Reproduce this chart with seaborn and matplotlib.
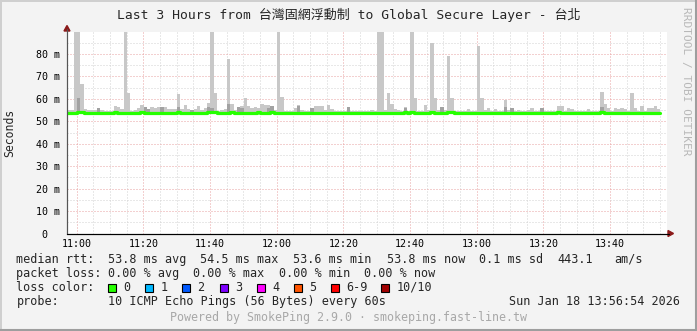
import matplotlib
matplotlib.use("Agg")
import numpy as np
import pandas as pd
import matplotlib.pyplot as plt
import seaborn as sns
from matplotlib.patches import Rectangle
from matplotlib.lines import Line2D

# ---------------- data ----------------
title = "Last 3 Hours from 台灣固網浮動制 to Global Secure Layer - 台北"
tick_minutes = [0, 20, 40, 60, 80, 100, 120, 140, 160]
tick_labels = ["11:00", "11:20", "11:40", "12:00", "12:20", "12:40", "13:00", "13:20", "13:40"]
y_ticks = [0, 10, 20, 30, 40, 50, 60, 70, 80]
y_labels = ["0  ", "10 m", "20 m", "30 m", "40 m", "50 m", "60 m", "70 m", "80 m"]

# smoke top (ms) per one-minute step, starting 10:57
smoke_max = [
    54.9, 55.2, 90.0, 90.0, 66.8, 55.6, 55.2, 55.2, 55.2, 56.0,
    55.0, 54.6, 54.6, 54.8, 57.0, 56.5, 55.4, 90.0, 62.8, 54.6,
    55.2, 55.8, 57.4, 56.2, 55.5, 56.5, 56.1, 56.5, 56.5, 56.5,
    55.4, 55.6, 55.5, 62.3, 55.5, 57.4, 55.3, 55.0, 55.5, 56.9,
    55.0, 56.1, 58.3, 90.0, 62.8, 54.8, 55.0, 55.6, 77.6, 57.8,
    55.0, 56.5, 56.8, 60.2, 56.8, 56.1, 56.5, 56.1, 57.8, 57.4,
    57.1, 56.6, 55.0, 90.0, 61.0, 54.8, 54.6, 54.6, 56.1, 57.4,
    55.0, 54.7, 54.6, 56.1, 56.9, 56.6, 56.6, 55.2, 57.4, 55.3,
    54.6, 54.6, 54.8, 54.7, 56.5, 54.8, 54.7, 54.8, 54.6, 54.6,
    54.6, 55.2, 54.6, 90.0, 90.0, 55.0, 62.8, 57.8, 55.6, 55.0,
    54.6, 56.5, 54.6, 90.0, 60.2, 54.6, 54.6, 57.3, 55.2, 84.7,
    60.5, 55.0, 56.1, 55.0, 78.9, 60.2, 54.6, 54.6, 54.6, 54.6,
    55.3, 54.6, 54.6, 83.7, 60.2, 55.2, 56.1, 54.8, 55.6, 54.6,
    54.6, 59.3, 55.2, 56.1, 54.6, 55.2, 54.6, 54.6, 55.2, 56.1,
    54.8, 54.6, 56.1, 54.6, 54.6, 54.6, 54.6, 56.8, 56.8, 54.6,
    56.1, 55.3, 54.6, 54.6, 54.6, 54.6, 55.6, 54.6, 54.6, 54.6,
    63.2, 57.8, 56.1, 54.6, 56.1, 55.6, 56.1, 55.3, 54.6, 62.8,
    56.1, 54.6, 56.9, 54.6, 56.1, 56.1, 56.9, 55.3,
]

# darker smoke layer
dark_steps = [3, 9, 23, 24, 28, 33, 37, 42, 43, 48, 51, 52, 60, 61, 69, 73, 84, 101, 112, 131, 133, 142, 160]
dark_tops = [60.5, 55.9, 56.2, 55.5, 56.2, 56.3, 55.0, 56.3, 56.1, 57.5, 56.5, 56.1, 56.1, 56.6, 56.6, 56.1, 56.5, 56.1, 56.3, 56.5, 56.1, 56.1, 56.5]

# median rtt (ms) per step
median_rtt = [
    53.8, 53.8, 53.8, 54.1, 54.1, 53.8, 53.8, 53.8, 53.8, 53.8,
    53.8, 53.7, 53.7, 53.8, 54.1, 53.8, 53.8, 53.8, 53.8, 53.8,
    53.8, 53.8, 54.0, 53.9, 53.9, 53.8, 53.8, 53.8, 53.9, 53.8,
    53.8, 53.8, 53.8, 54.1, 53.8, 53.8, 53.8, 53.7, 53.8, 53.8,
    53.8, 53.8, 54.0, 54.1, 54.2, 53.8, 53.8, 53.7, 53.8, 54.0,
    53.8, 53.8, 53.8, 53.8, 53.8, 53.8, 53.8, 54.0, 53.8, 53.8,
    53.8, 54.0, 53.8, 53.8, 53.8, 53.7, 53.7, 53.7, 53.8, 53.8,
    53.8, 53.8, 53.7, 53.8, 53.8, 53.8, 53.8, 53.8, 53.8, 53.8,
    53.7, 53.7, 53.8, 53.8, 53.8, 53.8, 53.8, 53.8, 53.7, 53.7,
    53.8, 53.8, 53.8, 53.8, 53.8, 53.8, 53.8, 53.8, 53.8, 53.8,
    53.8, 54.0, 53.8, 54.0, 53.8, 53.8, 53.8, 53.8, 53.8, 54.1,
    53.8, 53.8, 53.9, 53.8, 54.1, 54.0, 53.8, 53.7, 53.7, 53.8,
    53.8, 53.8, 53.8, 53.8, 53.8, 53.8, 53.8, 53.8, 53.8, 53.8,
    53.8, 53.8, 53.8, 53.8, 53.8, 53.8, 53.8, 53.8, 53.8, 53.8,
    53.8, 53.8, 53.8, 53.8, 53.8, 53.8, 53.8, 54.0, 53.8, 53.8,
    53.8, 53.8, 53.8, 53.8, 53.8, 53.8, 53.8, 53.8, 53.8, 53.8,
    54.0, 53.8, 53.8, 53.8, 53.8, 53.8, 53.8, 53.8, 53.8, 53.8,
    53.8, 53.8, 53.8, 53.8, 53.8, 53.8, 53.8, 53.8,
]

loss_labels = ["0", "1", "2", "3", "4", "5", "6-9", "10/10"]
loss_colors = ["#26ff00", "#00b8ff", "#0059ff", "#7e00ff", "#ff00ff", "#ff5500", "#ff0000", "#a10000"]

# ---------------- figure ----------------
W, H = 697, 331
sns.set_style("white")
MONO = ["DejaVu Sans Mono", "Noto Sans CJK TC"]
plt.rcParams["font.family"] = MONO

fig = plt.figure(figsize=(W / 100, H / 100), dpi=100, facecolor="#f3f3f3")

def fx(x):
    return x / W

def fy(y):
    return 1 - y / H

left_px, right_px, top_px, bot_px = 67, 667, 32.0, 233.5
ax = fig.add_axes([fx(left_px), fy(bot_px), (right_px - left_px) / W, (bot_px - top_px) / H])
ax.set_facecolor("white")

start = -2.91  # minutes relative to 11:00 of first step
n = len(smoke_max)
t = np.array([start + i for i in range(n)])
smoke_floor = 53.3

df = pd.DataFrame({"t": t, "hi": smoke_max, "med": median_rtt})

# grid (behind)
for m in range(-0, 180, 5):
    if start < m < start + 180:
        major = (m % 20 == 0)
        ax.axvline(m, color="#e8a2a2" if major else "#d2d2d2", lw=0.72,
                   ls=(0, (1, 2)), zorder=0)
for v in range(5, 90, 5):
    major = (v % 10 == 0)
    ax.axhline(v, color="#e8a2a2" if major else "#d2d2d2", lw=0.72,
               ls=(0, (1, 2)), zorder=0)

# smoke
ax.bar(df["t"], df["hi"] - smoke_floor, bottom=smoke_floor, width=1.0, align="edge",
       color="#c8c8c8", linewidth=0, zorder=2)
dt = np.array([start + i for i in dark_steps])
ax.bar(dt, np.array(dark_tops) - smoke_floor, bottom=smoke_floor, width=1.0, align="edge",
       color="#a2a2a2", linewidth=0, zorder=3)

# median line (steps)
df_line = pd.concat([df, pd.DataFrame({"t": [t[-1] + 1], "hi": [smoke_max[-1]], "med": [median_rtt[-1]]})],
                    ignore_index=True)
sns.lineplot(data=df_line, x="t", y="med", ax=ax, color="#26ff00", lw=2.3,
             drawstyle="steps-post", zorder=4, legend=False)

ax.set_xlim(start, start + 180)
ax.set_ylim(0, 89.8)
ax.set_xlabel("")
ax.set_ylabel("")

ax.set_xticks(tick_minutes)
ax.set_xticklabels(tick_labels)
ax.set_xticks([m for m in range(0, 180, 5) if m not in tick_minutes], minor=True)
ax.set_yticks(y_ticks)
ax.set_yticklabels(y_labels)
ax.set_yticks(list(range(5, 90, 10)), minor=True)
ax.tick_params(axis="both", which="both", direction="out", length=2.2, width=0.7,
               colors="#444444", labelcolor="black", labelsize=7.2)
ax.tick_params(axis="x", which="major", pad=1.8)
ax.tick_params(axis="y", which="major", pad=3.0)
for lab in ax.get_xticklabels() + ax.get_yticklabels():
    lab.set_family(MONO)

for s in ["top", "right"]:
    ax.spines[s].set_visible(False)
ax.spines["left"].set_color("#555555")
ax.spines["left"].set_linewidth(0.8)
ax.spines["bottom"].set_color("#000000")
ax.spines["bottom"].set_linewidth(0.8)

# axis arrows
fig.add_artist(Line2D([fx(left_px), fx(left_px)], [fy(bot_px), fy(29)], color="#555555", lw=0.8))
fig.add_artist(Line2D([fx(left_px), fx(669)], [fy(bot_px), fy(bot_px)], color="#000000", lw=0.8))
fig.patches.append(plt.Polygon([[fx(64), fy(31)], [fx(70), fy(31)], [fx(67), fy(25.5)]],
                               closed=True, color="#8b1a1a", transform=fig.transFigure, figure=fig))
fig.patches.append(plt.Polygon([[fx(668), fy(230.5)], [fx(668), fy(236.5)], [fx(673.5), fy(233.5)]],
                               closed=True, color="#8b1a1a", transform=fig.transFigure, figure=fig))

# texts
fig.text(0.5, fy(15), title, ha="center", va="center", fontsize=9.4, family=MONO)
fig.text(fx(10), fy(132.5), "Seconds", rotation=90, ha="center", va="center", fontsize=8.3, family=MONO)
fig.text(fx(686), fy(81), "RRDTOOL / TOBI OETIKER", rotation=-90, ha="center", va="center",
         fontsize=8.0, color="#b8b8b8", family=MONO)

LS = 8.5
rows = [
    (259.5, [(16.4, "median rtt:"), (107.6, "53.8 ms avg"), (200, "54.5 ms max"), (293, "53.6 ms min"),
             (386.7, "53.8 ms now"), (479, "0.1 ms sd"), (557.8, "443.1"), (614.7, "am/s")]),
    (273.5, [(16.4, "packet loss:"), (107.6, "0.00 % avg"), (193, "0.00 % max"), (279, "0.00 % min"),
             (364.4, "0.00 % now")]),
    (287.5, [(16.4, "loss color:")]),
    (301.5, [(16.4, "probe:"), (107.6, "10 ICMP Echo Pings (56 Bytes) every 60s")]),
]
for yy, items in rows:
    for xx, s in items:
        fig.text(fx(xx), fy(yy), s, ha="left", va="center", fontsize=LS, family=MONO)
fig.text(fx(680), fy(301.5), "Sun Jan 18 13:56:54 2026", ha="right", va="center", fontsize=LS, family=MONO)
fig.text(fx(348.5), fy(318), "Powered by SmokePing 2.9.0 · smokeping.fast-line.tw", ha="center", va="center",
         fontsize=8.4, color="#a8a8a8", family=MONO)

sq_x = [108, 145.3, 182, 219.6, 257, 294, 330.7, 381]
for xx, lab, col in zip(sq_x, loss_labels, loss_colors):
    fig.patches.append(Rectangle((fx(xx), fy(291.5)), 8 / W, 8 / H, transform=fig.transFigure,
                                 facecolor=col, edgecolor="black", lw=0.8, figure=fig))
    fig.text(fx(xx + 15.5), fy(287.5), lab, ha="left", va="center", fontsize=LS, family=MONO)

# outer shading border
fig.add_artist(Line2D([0, 1], [fy(0.8), fy(0.8)], color="#cfcfcf", lw=1.4))
fig.add_artist(Line2D([fx(0.8), fx(0.8)], [0, 1], color="#cfcfcf", lw=1.4))
fig.add_artist(Line2D([fx(W - 1.0), fx(W - 1.0)], [0, 1], color="#9e9e9e", lw=1.5))
fig.add_artist(Line2D([0, 1], [fy(H - 1.0), fy(H - 1.0)], color="#9e9e9e", lw=1.5))

fig.savefig("out.png", dpi=100, facecolor=fig.get_facecolor())
